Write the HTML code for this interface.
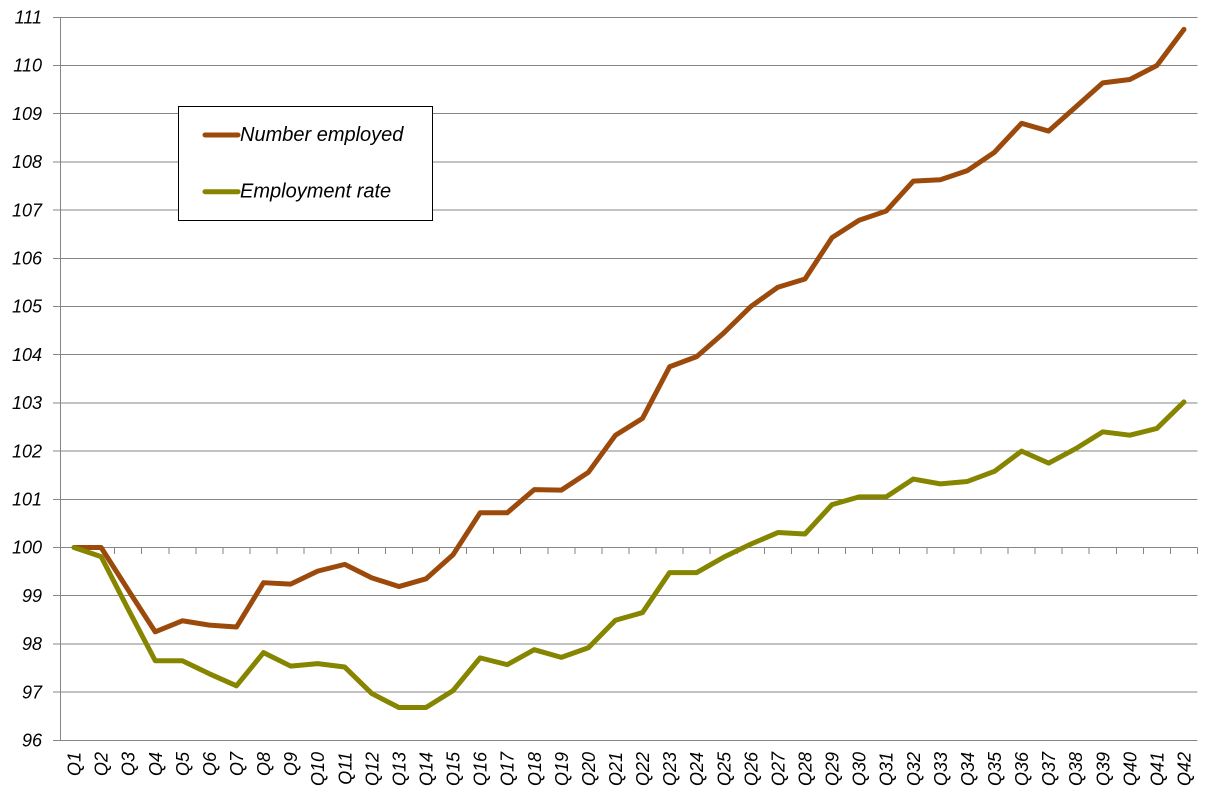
<!DOCTYPE html>
<html>
<head>
<meta charset="utf-8">
<style>
  html, body { margin: 0; padding: 0; background: #ffffff; }
  svg { display: block; }
  text { font-family: "Liberation Sans", Arial, sans-serif; font-style: italic; fill: #000; }
</style>
</head>
<body>
<svg width="1219" height="793" viewBox="0 0 1219 793" xmlns="http://www.w3.org/2000/svg">
  <rect width="1219" height="793" fill="#ffffff"/>
  <g stroke="#868686" stroke-width="1" shape-rendering="crispEdges" fill="none">
    <path d="M53 17.3H1197.5 M53 65.5H1197.5 M53 113.7H1197.5 M53 161.9H1197.5 M53 210.1H1197.5 M53 258.3H1197.5 M53 306.5H1197.5 M53 354.7H1197.5 M53 402.9H1197.5 M53 451.1H1197.5 M53 499.3H1197.5 M53 547.5H1197.5 M53 595.7H1197.5 M53 643.9H1197.5 M53 692.1H1197.5 M53 740.3H1197.5"/>
    <path d="M60.5 17.3V740.3"/>
    <path d="M60.5 547.5V554 M87.57 547.5V554 M114.64 547.5V554 M141.71 547.5V554 M168.79 547.5V554 M195.86 547.5V554 M222.93 547.5V554 M250 547.5V554 M277.07 547.5V554 M304.14 547.5V554 M331.21 547.5V554 M358.29 547.5V554 M385.36 547.5V554 M412.43 547.5V554 M439.5 547.5V554 M466.57 547.5V554 M493.64 547.5V554 M520.71 547.5V554 M547.79 547.5V554 M574.86 547.5V554 M601.93 547.5V554 M629 547.5V554 M656.07 547.5V554 M683.14 547.5V554 M710.21 547.5V554 M737.29 547.5V554 M764.36 547.5V554 M791.43 547.5V554 M818.5 547.5V554 M845.57 547.5V554 M872.64 547.5V554 M899.71 547.5V554 M926.79 547.5V554 M953.86 547.5V554 M980.93 547.5V554 M1008 547.5V554 M1035.07 547.5V554 M1062.14 547.5V554 M1089.21 547.5V554 M1116.29 547.5V554 M1143.36 547.5V554 M1170.43 547.5V554 M1197.5 547.5V554"/>
  </g>

  <g font-size="18" text-anchor="end">
    <text x="42" y="23.5">111</text>
    <text x="42" y="71.7">110</text>
    <text x="42" y="119.9">109</text>
    <text x="42" y="168.1">108</text>
    <text x="42" y="216.3">107</text>
    <text x="42" y="264.5">106</text>
    <text x="42" y="312.7">105</text>
    <text x="42" y="360.9">104</text>
    <text x="42" y="409.1">103</text>
    <text x="42" y="457.3">102</text>
    <text x="42" y="505.5">101</text>
    <text x="42" y="553.7">100</text>
    <text x="42" y="601.9">99</text>
    <text x="42" y="650.1">98</text>
    <text x="42" y="698.3">97</text>
    <text x="42" y="746.5">96</text>
  </g>

  <g font-size="18" text-anchor="end">
    <text transform="translate(80.5,752) rotate(-90)">Q1</text>
    <text transform="translate(107.6,752) rotate(-90)">Q2</text>
    <text transform="translate(134.7,752) rotate(-90)">Q3</text>
    <text transform="translate(161.8,752) rotate(-90)">Q4</text>
    <text transform="translate(188.8,752) rotate(-90)">Q5</text>
    <text transform="translate(215.9,752) rotate(-90)">Q6</text>
    <text transform="translate(243,752) rotate(-90)">Q7</text>
    <text transform="translate(270,752) rotate(-90)">Q8</text>
    <text transform="translate(297.1,752) rotate(-90)">Q9</text>
    <text transform="translate(324.2,752) rotate(-90)">Q10</text>
    <text transform="translate(351.3,752) rotate(-90)">Q11</text>
    <text transform="translate(378.3,752) rotate(-90)">Q12</text>
    <text transform="translate(405.4,752) rotate(-90)">Q13</text>
    <text transform="translate(432.5,752) rotate(-90)">Q14</text>
    <text transform="translate(459.5,752) rotate(-90)">Q15</text>
    <text transform="translate(486.6,752) rotate(-90)">Q16</text>
    <text transform="translate(513.7,752) rotate(-90)">Q17</text>
    <text transform="translate(540.8,752) rotate(-90)">Q18</text>
    <text transform="translate(567.8,752) rotate(-90)">Q19</text>
    <text transform="translate(594.9,752) rotate(-90)">Q20</text>
    <text transform="translate(622,752) rotate(-90)">Q21</text>
    <text transform="translate(649,752) rotate(-90)">Q22</text>
    <text transform="translate(676.1,752) rotate(-90)">Q23</text>
    <text transform="translate(703.2,752) rotate(-90)">Q24</text>
    <text transform="translate(730.3,752) rotate(-90)">Q25</text>
    <text transform="translate(757.3,752) rotate(-90)">Q26</text>
    <text transform="translate(784.4,752) rotate(-90)">Q27</text>
    <text transform="translate(811.5,752) rotate(-90)">Q28</text>
    <text transform="translate(838.5,752) rotate(-90)">Q29</text>
    <text transform="translate(865.6,752) rotate(-90)">Q30</text>
    <text transform="translate(892.7,752) rotate(-90)">Q31</text>
    <text transform="translate(919.8,752) rotate(-90)">Q32</text>
    <text transform="translate(946.8,752) rotate(-90)">Q33</text>
    <text transform="translate(973.9,752) rotate(-90)">Q34</text>
    <text transform="translate(1001,752) rotate(-90)">Q35</text>
    <text transform="translate(1028,752) rotate(-90)">Q36</text>
    <text transform="translate(1055.1,752) rotate(-90)">Q37</text>
    <text transform="translate(1082.2,752) rotate(-90)">Q38</text>
    <text transform="translate(1109.3,752) rotate(-90)">Q39</text>
    <text transform="translate(1136.3,752) rotate(-90)">Q40</text>
    <text transform="translate(1163.4,752) rotate(-90)">Q41</text>
    <text transform="translate(1190.5,752) rotate(-90)">Q42</text>
  </g>

  <g transform="matrix(27.0714 0 0 -48.2 46.964 5367.5)" fill="none" stroke-linejoin="round" stroke-linecap="round">
    <polyline vector-effect="non-scaling-stroke" stroke="#9c4a0b" stroke-width="5"
      points="1,100 2,100 3,99.12 4,98.25 5,98.48 6,98.39 7,98.35 8,99.27 9,99.24 10,99.51 11,99.65 12,99.37 13,99.19 14,99.35 15,99.85 16,100.72 17,100.72 18,101.2 19,101.19 20,101.56 21,102.33 22,102.68 23,103.75 24,103.96 25,104.45 26,105 27,105.4 28,105.57 29,106.43 30,106.79 31,106.98 32,107.6 33,107.63 34,107.82 35,108.2 36,108.8 37,108.64 38,109.14 39,109.64 40,109.71 41,110 42,110.75"/>
    <polyline vector-effect="non-scaling-stroke" stroke="#858500" stroke-width="5"
      points="1,100 2,99.81 3,98.72 4,97.65 5,97.65 6,97.38 7,97.13 8,97.82 9,97.54 10,97.59 11,97.52 12,96.97 13,96.68 14,96.68 15,97.03 16,97.71 17,97.57 18,97.88 19,97.72 20,97.92 21,98.49 22,98.65 23,99.48 24,99.48 25,99.8 26,100.07 27,100.31 28,100.28 29,100.89 30,101.05 31,101.05 32,101.42 33,101.32 34,101.37 35,101.58 36,102 37,101.75 38,102.05 39,102.4 40,102.33 41,102.47 42,103.02"/>
  </g>

  <rect x="178.5" y="106.5" width="254" height="114" fill="#ffffff" stroke="#000000" stroke-width="1" shape-rendering="crispEdges"/>
  <line x1="205" y1="135" x2="238" y2="135" stroke="#9c4a0b" stroke-width="5" stroke-linecap="round"/>
  <line x1="205" y1="191.7" x2="238" y2="191.7" stroke="#858500" stroke-width="5" stroke-linecap="round"/>
  <text x="240" y="141" font-size="20">Number employed</text>
  <text x="240" y="197.5" font-size="20">Employment rate</text>
</svg>
</body>
</html>
